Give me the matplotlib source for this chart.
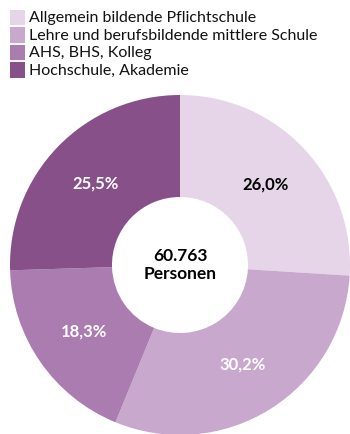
import matplotlib.pyplot as plt
from matplotlib.patches import Rectangle

# DATA

categories = [
    "Allgemein bildende Pflichtschule",
    "Lehre und berufsbildende mittlere Schule",
    "AHS, BHS, Kolleg",
    "Hochschule, Akademie",
]
shares = [26.0, 30.2, 18.3, 25.5]
share_labels = ["26,0%", "30,2%", "18,3%", "25,5%"]
total_label = "60.763\nPersonen"

colors = ["#e6d4e8", "#c8a8cc", "#aa7caf", "#875089"]
label_colors = ["black", "white", "white", "white"]

plt.rcParams['font.family'] = ['Lato', 'DejaVu Sans']

#FIGURE

W, H = 350, 434
fig = plt.figure(figsize=(W/100, H/100), dpi=100)

# pie axes: center (180, 265) px, radius 170 px
cx, cy, r = 180, 265, 170
ax = fig.add_axes([(cx-r)/W, (H-cy-r)/H, 2*r/W, 2*r/H])

wedges, texts = ax.pie(
    shares,
    colors=colors,
    startangle=90,
    counterclock=False,
    radius=1,
    labels=share_labels,
    labeldistance=0.69,
    wedgeprops=dict(width=0.6, linewidth=0),
    textprops=dict(fontsize=12, fontweight='bold'),
)

for t, c in zip(texts, label_colors):
    t.set_color(c)
    t.set_ha('center')
    t.set_va('center')

ax.text(0, 0, total_label, ha='center', va='center',
        fontsize=12.5, fontweight='bold', linespacing=1.15)

ax.set_xlim(-1, 1)
ax.set_ylim(-1, 1)
ax.set_aspect('equal')
ax.axis('off')

#LEGEND (drawn by hand, pixel layout)

sq = 15
pitch = 17.5
for i, (cat, col) in enumerate(zip(categories, colors)):
    top = 10 + i*pitch
    fig.patches.append(Rectangle(
        (10/W, 1 - (top + sq)/H), sq/W, sq/H,
        transform=fig.transFigure, facecolor=col, edgecolor='none'
    ))
    fig.text(29/W, 1 - (top + sq/2 + 0.5)/H, cat,
             ha='left', va='center', fontsize=11.5, color='#111111')

fig.savefig("out.png", dpi=100)
